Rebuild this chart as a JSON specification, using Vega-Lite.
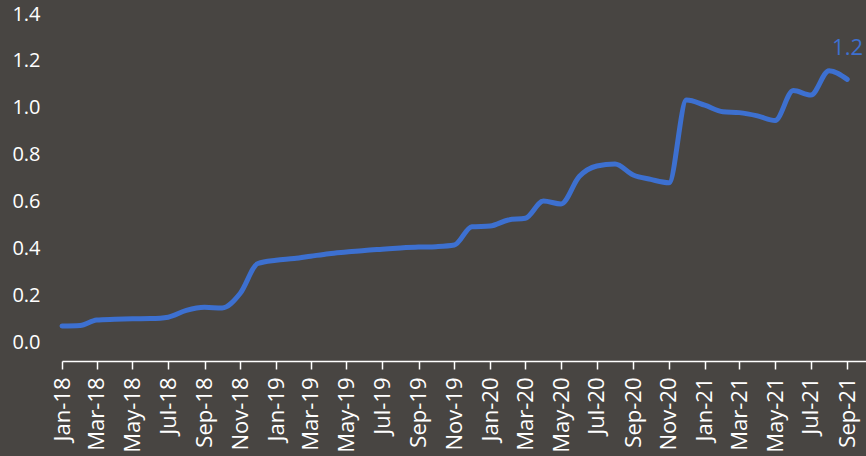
{
  "$schema": "https://vega.github.io/schema/vega-lite/v6.json",
  "width": 804,
  "height": 328,
  "autosize": {"type": "none"},
  "padding": {"left": 62, "top": 14, "right": 0, "bottom": 114},
  "background": "#484542",
  "config": {
    "view": {"stroke": null},
    "font": "Open Sans"
  },
  "data": {
    "values": [
      {"date": "2018-01-01", "value": 0.068},
      {"date": "2018-02-01", "value": 0.070},
      {"date": "2018-03-01", "value": 0.094},
      {"date": "2018-04-01", "value": 0.097},
      {"date": "2018-05-01", "value": 0.099},
      {"date": "2018-06-01", "value": 0.100},
      {"date": "2018-07-01", "value": 0.106},
      {"date": "2018-08-01", "value": 0.135},
      {"date": "2018-09-01", "value": 0.148},
      {"date": "2018-10-01", "value": 0.145},
      {"date": "2018-11-01", "value": 0.208},
      {"date": "2018-12-01", "value": 0.335},
      {"date": "2019-01-01", "value": 0.349},
      {"date": "2019-02-01", "value": 0.356},
      {"date": "2019-03-01", "value": 0.366},
      {"date": "2019-04-01", "value": 0.377},
      {"date": "2019-05-01", "value": 0.384},
      {"date": "2019-06-01", "value": 0.391},
      {"date": "2019-07-01", "value": 0.396},
      {"date": "2019-08-01", "value": 0.401},
      {"date": "2019-09-01", "value": 0.405},
      {"date": "2019-10-01", "value": 0.407},
      {"date": "2019-11-01", "value": 0.414},
      {"date": "2019-12-01", "value": 0.492},
      {"date": "2020-01-01", "value": 0.495},
      {"date": "2020-02-01", "value": 0.521},
      {"date": "2020-03-01", "value": 0.528},
      {"date": "2020-04-01", "value": 0.602},
      {"date": "2020-05-01", "value": 0.589},
      {"date": "2020-06-01", "value": 0.706},
      {"date": "2020-07-01", "value": 0.751},
      {"date": "2020-08-01", "value": 0.760},
      {"date": "2020-09-01", "value": 0.713},
      {"date": "2020-10-01", "value": 0.694},
      {"date": "2020-11-01", "value": 0.680},
      {"date": "2020-12-01", "value": 1.033},
      {"date": "2021-01-01", "value": 1.011},
      {"date": "2021-02-01", "value": 0.983},
      {"date": "2021-03-01", "value": 0.979},
      {"date": "2021-04-01", "value": 0.965},
      {"date": "2021-05-01", "value": 0.945},
      {"date": "2021-06-01", "value": 1.073},
      {"date": "2021-07-01", "value": 1.054},
      {"date": "2021-08-01", "value": 1.158},
      {"date": "2021-09-01", "value": 1.121}
    ]
  },
  "encoding": {
    "x": {
      "field": "date",
      "type": "temporal",
      "scale": {"domain": ["2018-01-01T00:00:00", "2021-10-03T00:00:00"]},
      "axis": {
        "title": null,
        "format": "%b-%y",
        "values": ["2018-01-01T00:00:00","2018-03-01T00:00:00","2018-05-01T00:00:00","2018-07-01T00:00:00","2018-09-01T00:00:00","2018-11-01T00:00:00","2019-01-01T00:00:00","2019-03-01T00:00:00","2019-05-01T00:00:00","2019-07-01T00:00:00","2019-09-01T00:00:00","2019-11-01T00:00:00","2020-01-01T00:00:00","2020-03-01T00:00:00","2020-05-01T00:00:00","2020-07-01T00:00:00","2020-09-01T00:00:00","2020-11-01T00:00:00","2021-01-01T00:00:00","2021-03-01T00:00:00","2021-05-01T00:00:00","2021-07-01T00:00:00","2021-09-01T00:00:00"],
        "labelAngle": -90,
        "labelAlign": "right",
        "labelBaseline": "middle",
        "labelFontSize": 22,
        "labelColor": "#ffffff",
        "labelPadding": 8,
        "labelOverlap": false,
        "labelFlush": false,
        "tickSize": 8,
        "tickColor": "#ffffff",
        "tickWidth": 1.5,
        "domainColor": "#ffffff",
        "domainWidth": 1.5,
        "offset": 19,
        "grid": false
      }
    },
    "y": {
      "field": "value",
      "type": "quantitative",
      "scale": {"domain": [0, 1.4], "nice": false},
      "axis": {
        "title": null,
        "values": [0, 0.2, 0.4, 0.6, 0.8, 1.0, 1.2, 1.4],
        "format": ".1f",
        "labelFontSize": 20,
        "labelColor": "#ffffff",
        "labelPadding": 22,
        "ticks": false,
        "tickSize": 0,
        "domain": false,
        "grid": false
      }
    }
  },
  "layer": [
    {
      "mark": {"type": "line", "interpolate": "monotone", "color": "#3d70d0", "strokeWidth": 5, "strokeCap": "round", "strokeJoin": "round"}
    },
    {
      "transform": [{"filter": "datum.value >= 1.15"}],
      "mark": {"type": "text", "color": "#3d70d0", "fontSize": 22, "align": "left", "baseline": "alphabetic", "dx": 3, "dy": -16},
      "encoding": {
        "text": {"field": "value", "type": "quantitative", "format": ".1f"}
      }
    }
  ]
}
